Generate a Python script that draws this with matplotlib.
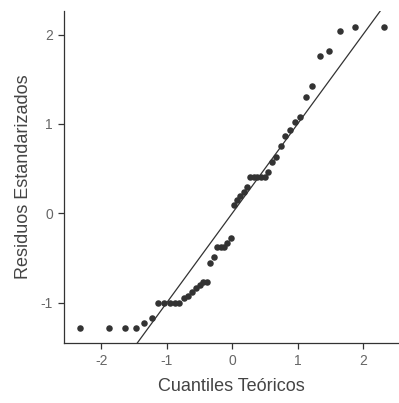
import matplotlib
matplotlib.use("Agg")
from matplotlib import pyplot as plt

# theoretical normal quantiles (n = 50)
quantiles = [-2.326, -1.881, -1.645, -1.476, -1.341, -1.227, -1.126, -1.036, -0.954, -0.878,
             -0.806, -0.739, -0.674, -0.613, -0.553, -0.496, -0.440, -0.385, -0.332, -0.279,
             -0.228, -0.176, -0.126, -0.075, -0.025, 0.025, 0.075, 0.126, 0.176, 0.228,
             0.279, 0.332, 0.385, 0.440, 0.496, 0.553, 0.613, 0.674, 0.739, 0.806,
             0.878, 0.954, 1.036, 1.126, 1.227, 1.341, 1.476, 1.645, 1.881, 2.326]

# sorted standardized residuals
residuals = [-1.28, -1.28, -1.28, -1.28, -1.23, -1.17, -1.00, -1.00, -1.00, -1.00,
             -1.00, -0.95, -0.92, -0.88, -0.84, -0.80, -0.77, -0.77, -0.55, -0.49,
             -0.38, -0.38, -0.38, -0.33, -0.27, 0.09, 0.15, 0.19, 0.24, 0.29,
             0.41, 0.41, 0.41, 0.41, 0.41, 0.46, 0.57, 0.63, 0.75, 0.86,
             0.93, 1.02, 1.08, 1.30, 1.42, 1.76, 1.82, 2.04, 2.09, 2.09]

xticks = [-2, -1, 0, 1, 2]
yticks = [-1, 0, 1, 2]

plt.rcParams['font.family'] = ['Liberation Sans', 'DejaVu Sans']
plt.rcParams['axes.unicode_minus'] = False

fig = plt.figure(figsize=(3.99, 4.03), dpi=100)
ax = fig.add_axes([0.1604, 0.1489, 0.8396, 0.823])

ax.scatter(quantiles, residuals, s=22, color='#333333', linewidths=0, zorder=3)
ax.axline((0, 0), slope=1, color='#333333', lw=0.9, zorder=2)

ax.set_xlim(-2.57, 2.55)
ax.set_ylim(-1.45, 2.26)
ax.set_xticks(xticks)
ax.set_yticks(yticks)

for side in ['top', 'right']:
    ax.spines[side].set_visible(False)
for side in ['left', 'bottom']:
    ax.spines[side].set_color('#333333')
    ax.spines[side].set_linewidth(0.9)

ax.tick_params(length=4, width=0.9, color='#333333', labelcolor='#666666',
               labelsize=10, pad=4)

ax.set_xlabel("Cuantiles Teóricos", fontsize=13, color='#444444', labelpad=7)
ax.set_ylabel("Residuos Estandarizados", fontsize=13, color='#444444', labelpad=6)

fig.savefig("out.png", dpi=100)
